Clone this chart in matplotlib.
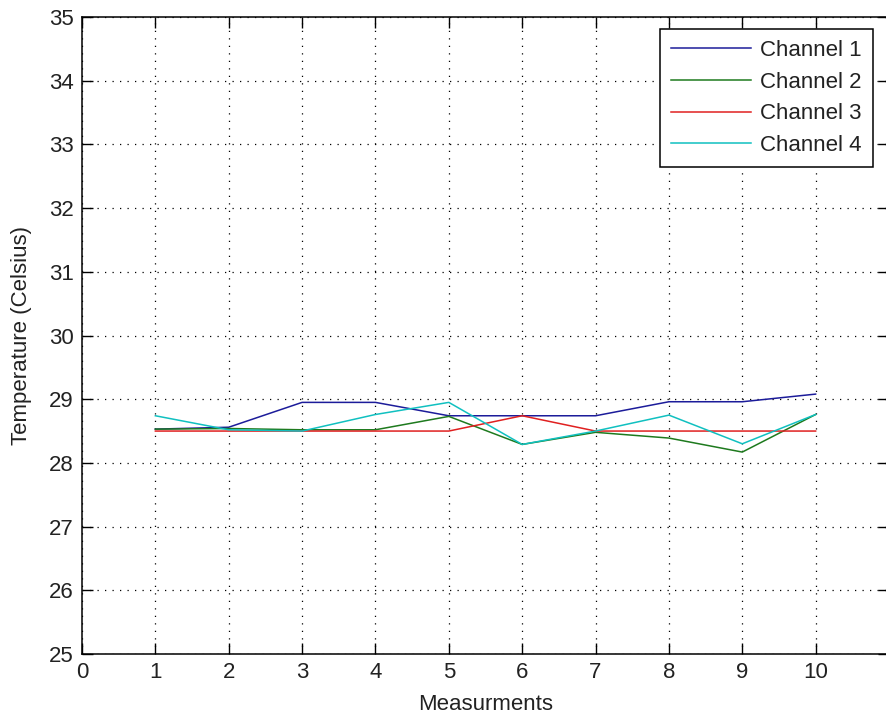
import matplotlib
matplotlib.use("Agg")
import matplotlib.pyplot as plt

measurements = [1, 2, 3, 4, 5, 6, 7, 8, 9, 10]
channel1 = [28.53, 28.56, 28.95, 28.95, 28.74, 28.74, 28.74, 28.96, 28.96, 29.08]
channel2 = [28.53, 28.54, 28.52, 28.52, 28.73, 28.29, 28.48, 28.39, 28.17, 28.76]
channel3 = [28.50, 28.50, 28.50, 28.50, 28.50, 28.74, 28.50, 28.50, 28.50, 28.50]
channel4 = [28.74, 28.52, 28.50, 28.76, 28.95, 28.29, 28.50, 28.75, 28.30, 28.76]
labels = ["Channel 1", "Channel 2", "Channel 3", "Channel 4"]
colors = ["#1c1c9a", "#1e7a1e", "#e02020", "#10c0c0"]

plt.rcParams['font.family'] = ['Liberation Sans', 'DejaVu Sans']

fig = plt.figure(figsize=(8.87, 7.25), dpi=100)
ax = fig.add_axes([82/887, 1-654/725, (889-82)/887, (654-17)/725])

for ys, lab, c in zip([channel1, channel2, channel3, channel4], labels, colors):
    ax.plot(measurements, ys, color=c, lw=1.1, label=lab)

ax.set_xlim(0, 11)
ax.set_ylim(25, 35)
ax.set_xticks(range(0, 11))
ax.set_yticks(range(25, 36))
ax.tick_params(direction='in', length=8, width=1, top=True, right=True,
               labelsize=16, colors='black', labelcolor='#222222', pad=6)
ax.grid(True, color='black', linestyle=(0, (1, 5)), linewidth=0.9)
for s in ax.spines.values():
    s.set_linewidth(1.1)
    s.set_color('black')

ax.set_xlabel("Measurments", fontsize=16, labelpad=8, color='#222222')
ax.set_ylabel("Temperature (Celsius)", fontsize=16, labelpad=12, color='#222222')

leg = ax.legend(loc='upper right', bbox_to_anchor=((873-82)/807, (654-29)/637),
                fontsize=16, frameon=True, fancybox=False, edgecolor='black',
                framealpha=1, borderpad=0.5, handlelength=3.6, handletextpad=0.4,
                labelspacing=0.48, borderaxespad=0)
for t in leg.get_texts():
    t.set_color('#222222')
leg.get_frame().set_linewidth(1.1)

fig.savefig("out.png", dpi=100)
